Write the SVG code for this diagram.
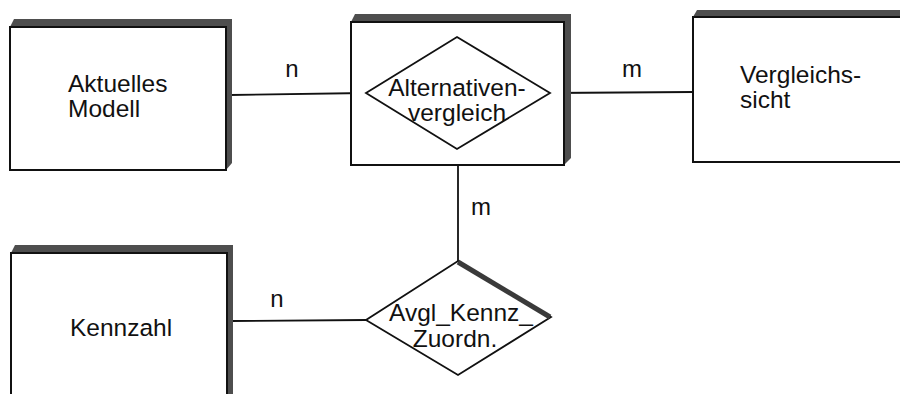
<svg xmlns="http://www.w3.org/2000/svg" width="900" height="394" viewBox="0 0 900 394">
  <style>
    .shade { fill: #4e4e4e; }
    .box { fill: #fff; stroke: #111; stroke-width: 2; }
    .rel { fill: #fff; stroke: #111; stroke-width: 1.8; stroke-linejoin: miter; }
    .edge { stroke: #111; stroke-width: 1.8; fill: none; }
    .lbl { font-family: "Liberation Sans", Arial, sans-serif; font-size: 24.5px; fill: #111; }
    .card { font-family: "Liberation Sans", Arial, sans-serif; font-size: 24px; fill: #111; text-anchor: middle; }
    .mid { text-anchor: middle; }
  </style>

  <!-- connectors -->
  <g id="connectors">
    <line class="edge" x1="230" y1="95" x2="366" y2="93"/>
    <line class="edge" x1="550" y1="93" x2="693" y2="92"/>
    <line class="edge" x1="458" y1="165" x2="458" y2="261"/>
    <line class="edge" x1="232" y1="321" x2="366" y2="320"/>
    <text class="card" x="292" y="77">n</text>
    <text class="card" x="632" y="77">m</text>
    <text class="card" x="481" y="215">m</text>
    <text class="card" x="277" y="307">n</text>
  </g>

  <!-- entity: Aktuelles Modell -->
  <g id="aktuelles-modell">
    <polygon class="shade" points="10,27 14,19 232,19 232,163 226,170"/>
    <rect class="box" x="10" y="27" width="216" height="143"/>
    <text class="lbl" x="68" y="92">Aktuelles</text>
    <text class="lbl" x="68" y="117">Modell</text>
  </g>

  <!-- relationship box: Alternativenvergleich -->
  <g id="alternativenvergleich">
    <polygon class="shade" points="351,22 355,14 571,14 571,158 564,165"/>
    <rect class="box" x="351" y="22" width="213" height="143"/>
    <polygon class="rel" points="457,37 550,93 457,149 366,93"/>
    <text class="lbl mid" x="457" y="96">Alternativen-</text>
    <text class="lbl mid" x="457" y="121">vergleich</text>
  </g>

  <!-- entity: Vergleichssicht -->
  <g id="vergleichssicht">
    <polygon class="shade" points="693,17 697,10 912,10 912,155 905,162"/>
    <rect class="box" x="693" y="17" width="212" height="145"/>
    <text class="lbl" x="740" y="83">Vergleichs-</text>
    <text class="lbl" x="740" y="108">sicht</text>
  </g>

  <!-- entity: Kennzahl -->
  <g id="kennzahl">
    <polygon class="shade" points="11,253 15,245 233,245 233,400 227,400"/>
    <rect class="box" x="11" y="253" width="216" height="160"/>
    <text class="lbl" x="70" y="336">Kennzahl</text>
  </g>

  <!-- relationship: Avgl_Kennz_Zuordn. -->
  <g id="avgl-kennz-zuordn">
    <polygon class="rel" points="458,261 551,317 458,375 366,320"/>
    <line x1="458" y1="262" x2="550" y2="317" stroke="#3a3a3a" stroke-width="5"/>
    <text class="lbl mid" x="461" y="321">Avgl_Kennz_</text>
    <text class="lbl mid" x="455" y="347">Zuordn.</text>
  </g>
</svg>
